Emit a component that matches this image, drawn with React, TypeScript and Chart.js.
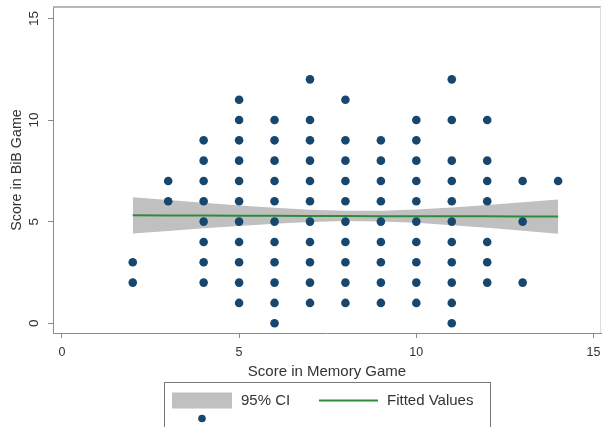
import React, { useEffect, useRef } from "react";
import { Chart, registerables } from "chart.js";

Chart.register(...registerables);

// Memory-game score columns and the BiB-game scores observed in each column
const memoryColumns = [2, 3, 4, 5, 6, 7, 8, 9, 10, 11, 12, 13, 14];
const bibScoresByColumn = [
  [2, 3],
  [6, 7],
  [2, 3, 4, 5, 6, 7, 8, 9],
  [1, 2, 3, 4, 5, 6, 7, 8, 9, 10, 11],
  [0, 1, 2, 3, 4, 5, 6, 7, 8, 9, 10],
  [1, 2, 3, 4, 5, 6, 7, 8, 9, 10, 12],
  [1, 2, 3, 4, 5, 6, 7, 8, 9, 11],
  [1, 2, 3, 4, 5, 6, 7, 8, 9],
  [1, 2, 3, 4, 5, 6, 7, 8, 9, 10],
  [0, 1, 2, 3, 4, 5, 6, 7, 8, 10, 12],
  [2, 3, 4, 6, 7, 8, 10],
  [2, 5, 7],
  [7],
];

// Fitted values and 95% CI
const fitX = [2, 3, 4, 5, 6, 7, 8, 9, 10, 11, 12, 13, 14];
const fitY = [5.31, 5.30, 5.30, 5.29, 5.29, 5.28, 5.28, 5.27, 5.27, 5.26, 5.26, 5.25, 5.25];
const ciHigh = [6.20, 6.06, 5.93, 5.79, 5.68, 5.58, 5.53, 5.53, 5.60, 5.70, 5.82, 5.95, 6.09];
const ciLow = [4.41, 4.54, 4.67, 4.79, 4.90, 4.98, 5.03, 5.01, 4.94, 4.82, 4.70, 4.55, 4.40];

const xTickValues = [0, 5, 10, 15];
const yTickValues = [0, 5, 10, 15];

const xTitle = "Score in Memory Game";
const yTitle = "Score in BiB Game";
const ciLabel = "95% CI";
const fitLabel = "Fitted Values";

const FONT = "'Liberation Sans', Arial, Helvetica, sans-serif";
const DOT = "#17466f";
const GREEN = "#2e8b3e";
const BAND = "#c0c0c0";
const AXIS = "#8a8a8a";
const TEXT = "#333333";

const framePlugin = {
  id: "frameAndLegend",
  afterDraw(chart: any) {
    const ctx = chart.ctx;
    const a = chart.chartArea;
    ctx.save();
    // top and right frame of plot region
    ctx.strokeStyle = "#a0a0a0";
    ctx.lineWidth = 1.5;
    ctx.beginPath();
    ctx.moveTo(a.left, a.top);
    ctx.lineTo(a.right, a.top);
    ctx.stroke();
    ctx.strokeStyle = "#dddddd";
    ctx.lineWidth = 1;
    ctx.beginPath();
    ctx.moveTo(a.right - 0.5, a.top);
    ctx.lineTo(a.right - 0.5, a.bottom);
    ctx.stroke();

    // rotated y tick labels placed by the y scale
    const ys = chart.scales.y;
    ctx.fillStyle = TEXT;
    ctx.font = `13.5px ${FONT}`;
    ctx.textAlign = "center";
    ctx.textBaseline = "middle";
    yTickValues.forEach((v) => {
      const py = ys.getPixelForValue(v);
      ctx.save();
      ctx.translate(34, py);
      ctx.rotate(-Math.PI / 2);
      ctx.fillText(String(v), 0, 0);
      ctx.restore();
    });

    // legend
    const cx = (a.left + a.right) / 2;
    const lx = cx - 163;
    const ly = 382.5;
    const lw = 326;
    ctx.strokeStyle = "#777777";
    ctx.lineWidth = 1;
    ctx.strokeRect(Math.round(lx) + 0.5, ly, lw, 60);
    ctx.fillStyle = BAND;
    ctx.fillRect(lx + 8, ly + 10, 60, 16);
    ctx.fillStyle = TEXT;
    ctx.font = `15px ${FONT}`;
    ctx.textBaseline = "middle";
    ctx.textAlign = "left";
    ctx.fillText(ciLabel, lx + 77, ly + 18);
    ctx.strokeStyle = GREEN;
    ctx.lineWidth = 2;
    ctx.beginPath();
    ctx.moveTo(lx + 155, ly + 18);
    ctx.lineTo(lx + 214, ly + 18);
    ctx.stroke();
    ctx.fillStyle = TEXT;
    ctx.fillText(fitLabel, lx + 223, ly + 18);
    ctx.fillStyle = DOT;
    ctx.beginPath();
    ctx.arc(lx + 38, ly + 36, 3.8, 0, Math.PI * 2);
    ctx.fill();
    ctx.restore();
  },
};

export default function App() {
  const ref = useRef<HTMLCanvasElement>(null);

  useEffect(() => {
    if (!ref.current) return;
    const points: { x: number; y: number }[] = [];
    memoryColumns.forEach((mx, i) => {
      bibScoresByColumn[i].forEach((b) => points.push({ x: mx, y: b }));
    });
    const toXY = (ys: number[]) => fitX.map((x, i) => ({ x, y: ys[i] }));

    const chart = new Chart(ref.current, {
      type: "scatter",
      data: {
        datasets: [
          {
            label: "points",
            data: points,
            backgroundColor: DOT,
            borderColor: DOT,
            borderWidth: 0,
            pointRadius: 4.3,
            order: 0,
          } as any,
          {
            type: "line",
            label: fitLabel,
            data: toXY(fitY),
            borderColor: GREEN,
            borderWidth: 2,
            pointRadius: 0,
            fill: false,
            order: 1,
          } as any,
          {
            type: "line",
            label: ciLabel,
            data: toXY(ciHigh),
            borderWidth: 0,
            borderColor: "rgba(0,0,0,0)",
            backgroundColor: BAND,
            pointRadius: 0,
            fill: "+1",
            order: 2,
          } as any,
          {
            type: "line",
            label: "ci-low",
            data: toXY(ciLow),
            borderWidth: 0,
            borderColor: "rgba(0,0,0,0)",
            pointRadius: 0,
            fill: false,
            order: 3,
          } as any,
        ],
      },
      options: {
        animation: false,
        responsive: false,
        maintainAspectRatio: false,
        layout: { autoPadding: false, padding: { top: 7, right: 1, left: 0, bottom: 45 } },
        plugins: { legend: { display: false }, tooltip: { enabled: false } },
        scales: {
          x: {
            type: "linear",
            min: -0.25,
            max: 15.21,
            afterBuildTicks: (s: any) => {
              s.ticks = xTickValues.map((v) => ({ value: v }));
            },
            afterFit: (s: any) => {
              s.height = 49;
              s.paddingLeft = 0;
              s.paddingRight = 0;
            },
            grid: { drawOnChartArea: false, drawTicks: true, tickLength: 5, color: AXIS },
            border: { display: true, color: AXIS, width: 1 },
            ticks: {
              color: TEXT,
              font: { family: FONT, size: 12.5 },
              padding: 7,
              maxRotation: 0,
            },
            title: {
              display: true,
              text: xTitle,
              color: TEXT,
              font: { family: FONT, size: 15 },
              padding: { top: 0, bottom: 1 },
            },
          },
          y: {
            type: "linear",
            min: -0.48,
            max: 15.56,
            afterBuildTicks: (s: any) => {
              s.ticks = yTickValues.map((v) => ({ value: v }));
            },
            afterFit: (s: any) => {
              s.width = 53;
              s.paddingTop = 0;
              s.paddingBottom = 0;
            },
            grid: { drawOnChartArea: false, drawTicks: true, tickLength: 5, color: AXIS },
            border: { display: true, color: AXIS, width: 1 },
            ticks: { display: false },
            title: {
              display: true,
              text: yTitle,
              color: TEXT,
              font: { family: FONT, size: 14.3 },
              padding: { top: 8, bottom: 0 },
            },
          },
        },
      } as any,
      plugins: [framePlugin],
    });
    return () => chart.destroy();
  }, []);

  return (
    <div style={{ position: "fixed", left: 0, top: 0, width: 602, height: 427, background: "#fff" }}>
      <canvas ref={ref} width={602} height={427} style={{ width: 602, height: 427, display: "block" }} />
    </div>
  );
}
